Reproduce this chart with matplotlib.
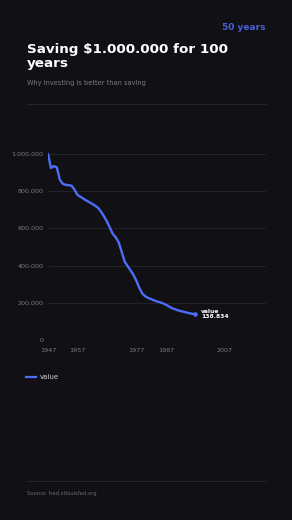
import matplotlib
matplotlib.use("Agg")
import matplotlib.pyplot as plt
from matplotlib.lines import Line2D

years = list(range(1947, 1998))
values = [1000000, 925000, 935000, 928000, 862000, 840000, 834000, 832000, 830000, 808000,
          780000, 770000, 760000, 750000, 741000, 732000, 722000, 710000, 690000, 665000,
          637000, 604000, 570000, 552000, 525000, 475000, 422000, 398000, 375000, 350000,
          318000, 280000, 250000, 235000, 226000, 220000, 213000, 207000, 203000, 197000,
          190000, 181000, 172000, 166000, 160000, 156000, 152000, 148000, 144000, 141000,
          138834]
x_ticks = [1947, 1957, 1977, 1987, 2007]
y_ticks = [0, 200000, 400000, 600000, 800000, 1000000]

BG = "#111115"
LINE = "#4c6ef5"
W, H = 292, 520

fig = plt.figure(figsize=(W / 100, H / 100), dpi=100, facecolor=BG)

def fx(px):
    return px / W

def fy(py):
    return 1 - py / H

ax = fig.add_axes([fx(48), fy(340), fx(266) - fx(48), (190) / H], facecolor=BG)
ax.plot(years, values, color=LINE, lw=1.7, solid_capstyle="round", zorder=3)
ax.scatter([years[-1]], [values[-1]], s=5, color=LINE, zorder=4)
ax.annotate("value\n" + f"{values[-1]:,}".replace(",", "."), (years[-1], values[-1]),
            xytext=(4, 0), textcoords="offset points", color="white", fontsize=4.3,
            fontweight="bold", va="center", ha="left", linespacing=1.0)

ax.set_xlim(1947, 2021)
ax.set_ylim(0, 1000000 * 190 / 186)
ax.set_xticks(x_ticks)
ax.set_yticks(y_ticks)
ax.set_yticklabels([f"{v:,}".replace(",", ".") for v in y_ticks])
ax.tick_params(length=0, colors="#7a7a80", labelsize=4.6)
ax.tick_params(axis="y", pad=3)
ax.tick_params(axis="x", pad=6)
for s in ax.spines.values():
    s.set_visible(False)
ax.grid(axis="y", color="#26262c", lw=0.6)
ax.set_axisbelow(True)

# texts
fig.text(fx(265), fy(27), "50 years", color="#4a5fd6", fontsize=6.5, fontweight="bold",
         ha="right", va="center")
fig.text(fx(27), fy(56.5), "Saving $1.000.000 for 100\nyears", color="white", fontsize=9.7,
         fontweight="bold", ha="left", va="center", linespacing=1.15)
fig.text(fx(27), fy(83), "Why investing is better than saving", color="#7a7a80", fontsize=4.8,
         ha="left", va="center")
fig.add_artist(Line2D([fx(27), fx(266)], [fy(104), fy(104)], color="#2a2a30", lw=0.6))
fig.add_artist(Line2D([fx(27), fx(266)], [fy(481), fy(481)], color="#2a2a30", lw=0.6))
fig.text(fx(27), fy(494), "Source: fred.stlouisfed.org", color="#6a6a70", fontsize=3.8,
         ha="left", va="center")

# legend
fig.add_artist(Line2D([fx(26), fx(36)], [fy(377), fy(377)], color=LINE, lw=1.6))
fig.text(fx(40), fy(377), "value", color="#d0d0d4", fontsize=5, ha="left", va="center")

fig.savefig("out.png", dpi=100, facecolor=BG)
